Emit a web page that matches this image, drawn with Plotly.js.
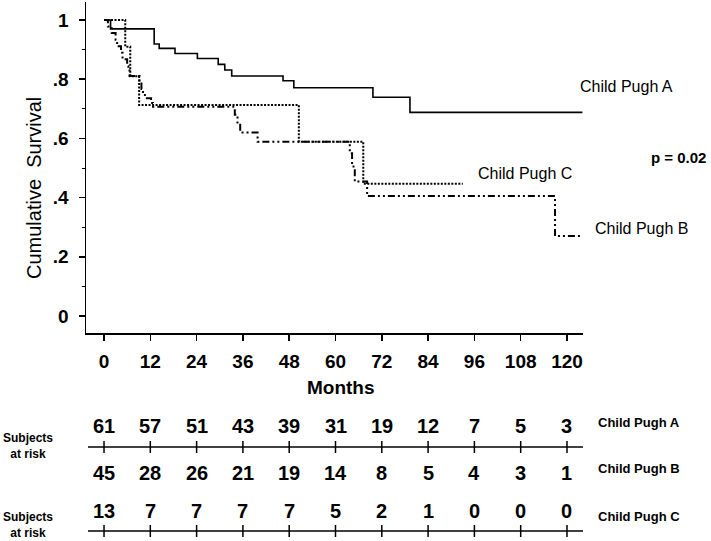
<!DOCTYPE html>
<html>
<head>
<meta charset="utf-8">
<script src="https://cdn.plot.ly/plotly-3.0.1.min.js"></script>
<style>html,body{margin:0;padding:0;background:#fff;}#chart{width:711px;height:541px;}</style>
</head>
<body>
<div id="chart"></div>
<script>
// ---- data ----
const monthsA = [0, 1.7, 13, 14.3, 18.4, 24.2, 29.6, 31.3, 33.1, 46.4, 49.2, 69.7, 79.3, 124];
const survA   = [1, 0.97, 0.919, 0.904, 0.887, 0.870, 0.850, 0.831, 0.811, 0.795, 0.771, 0.739, 0.688, 0.688];

const monthsB = [0, 1.0, 2.0, 3.0, 3.4, 4.4, 4.8, 6.0, 6.3, 6.6, 9.2, 9.7, 10.1, 10.6, 12.2, 12.7, 33.9, 34.6, 35.3, 39.8, 63.7, 64.3, 65.0, 68.2, 116.9, 124];
const survB   = [1, 0.978, 0.956, 0.933, 0.911, 0.889, 0.867, 0.844, 0.833, 0.811, 0.789, 0.767, 0.752, 0.736, 0.72, 0.707, 0.68, 0.65, 0.62, 0.589, 0.55, 0.505, 0.454, 0.405, 0.27, 0.27];

const monthsC = [0, 5.5, 6.8, 9.1, 50.5, 67.2, 93];
const survC   = [1, 0.91, 0.81, 0.713, 0.589, 0.447, 0.447];

const groupNames = ["Child Pugh A", "Child Pugh B", "Child Pugh C"];
const pValueText = "p = 0.02";

const riskMonths = [0, 12, 24, 36, 48, 60, 72, 84, 96, 108, 120];
const riskA = [61, 57, 51, 43, 39, 31, 19, 12, 7, 5, 3];
const riskB = [45, 28, 26, 21, 19, 14, 8, 5, 4, 3, 1];
const riskC = [13, 7, 7, 7, 7, 5, 2, 1, 0, 0, 0];

const yTickVals = [0, 0.2, 0.4, 0.6, 0.8, 1];
const yTickText = ["0", ".2", ".4", ".6", ".8", "1"];
const yMinorVals = [0.1, 0.3, 0.5, 0.7, 0.9];

// ---- layout helpers ----
const W = 711, H = 541;
const M = {l: 86, r: 128, t: 2, b: 208};
const plotH = H - M.t - M.b;
const plotW = W - M.l - M.r;
function py(p) { return (H - M.b - p) / plotH; }   // pixel row -> paper y
function px(p) { return (p - M.l) / plotW; }        // pixel col -> paper x

const SANS = "Liberation Sans, Arial, sans-serif";

const traces = [
  {x: monthsA, y: survA, mode: "lines", line: {shape: "hv", color: "#000", width: 1.6}, name: groupNames[0]},
  {x: monthsB, y: survB, mode: "lines", line: {shape: "hv", color: "#000", width: 2, dash: "7px,3px,2px,3px,2px,3px"}, name: groupNames[1]},
  {x: monthsC, y: survC, mode: "lines", line: {shape: "hv", color: "#000", width: 2, dash: "2px,1.5px"}, name: groupNames[2]}
];

const annotations = [];
const shapes = [];

function label(text, xPix, yPix, size, opts) {
  annotations.push(Object.assign({xref: "paper", yref: "paper", x: px(xPix), y: py(yPix), text: text, showarrow: false,
    xanchor: "left", yanchor: "middle", font: {family: SANS, size: size, color: "#000"}}, opts || {}));
}

// curve labels and p value
label(groupNames[0], 578, 86, 16);
label(groupNames[2], 476, 173, 16);
label(groupNames[1], 593, 229, 16);
label("<b>" + pValueText + "</b>", 708, 157, 15, {xanchor: "right"});

// axis titles
label("Cumulative  Survival", 34, 188, 20, {textangle: -90, xanchor: "center"});
label("<b>Months</b>", 341, 387, 19, {xanchor: "center"});

// risk table
const rows = [
  {vals: riskA, yPix: 426, name: groupNames[0], nameY: 422},
  {vals: riskB, yPix: 473, name: groupNames[1], nameY: 468},
  {vals: riskC, yPix: 511, name: groupNames[2], nameY: 516}
];
rows.forEach(r => {
  r.vals.forEach((v, i) => {
    annotations.push({xref: "x", yref: "paper", x: riskMonths[i], y: py(r.yPix), text: "<b>" + v + "</b>", showarrow: false,
      xanchor: "center", yanchor: "middle", font: {family: SANS, size: 20, color: "#000"}});
  });
  label("<b>" + r.name + "</b>", 596, r.nameY, 13);
});
[446, 525].forEach(c => {
  label("<b>Subjects<br>at risk</b>", 28, c, 12, {xanchor: "center", align: "center"});
});
[447, 531].forEach(lp => {
  shapes.push({type: "line", xref: "paper", yref: "paper", x0: px(88), x1: px(583), y0: py(lp), y1: py(lp), line: {color: "#000", width: 1.5}});
  riskMonths.forEach(m => {
    shapes.push({type: "line", xref: "x", yref: "paper", x0: m, x1: m, y0: py(lp - 6), y1: py(lp + 6), line: {color: "#000", width: 1.5}});
  });
});

const layout = {
  width: W, height: H,
  margin: M,
  paper_bgcolor: "#fff", plot_bgcolor: "#fff",
  showlegend: false,
  xaxis: {
    range: [-4.67, 124.15], tickvals: riskMonths, ticktext: riskMonths.map(String),
    showline: true, linecolor: "#000", linewidth: 1.5, ticks: "outside", ticklen: 6, tickwidth: 1.5, tickcolor: "#000",
    showgrid: false, zeroline: false, ticklabelstandoff: 5,
    tickfont: {family: SANS, size: 19, color: "#000", weight: "bold"}
  },
  yaxis: {
    range: [-0.0574, 1.0608], tickvals: yTickVals, ticktext: yTickText,
    showline: true, linecolor: "#000", linewidth: 1.5, ticks: "outside", ticklen: 6, tickwidth: 1.5, tickcolor: "#000",
    minor: {tickvals: yMinorVals, ticks: "outside", ticklen: 3, tickwidth: 1, tickcolor: "#000"},
    showgrid: false, zeroline: false, ticklabelstandoff: 6,
    tickfont: {family: SANS, size: 19, color: "#000", weight: "bold"}
  },
  annotations: annotations,
  shapes: shapes
};

Plotly.newPlot("chart", traces, layout, {displayModeBar: false, staticPlot: true});
</script>
</body>
</html>
